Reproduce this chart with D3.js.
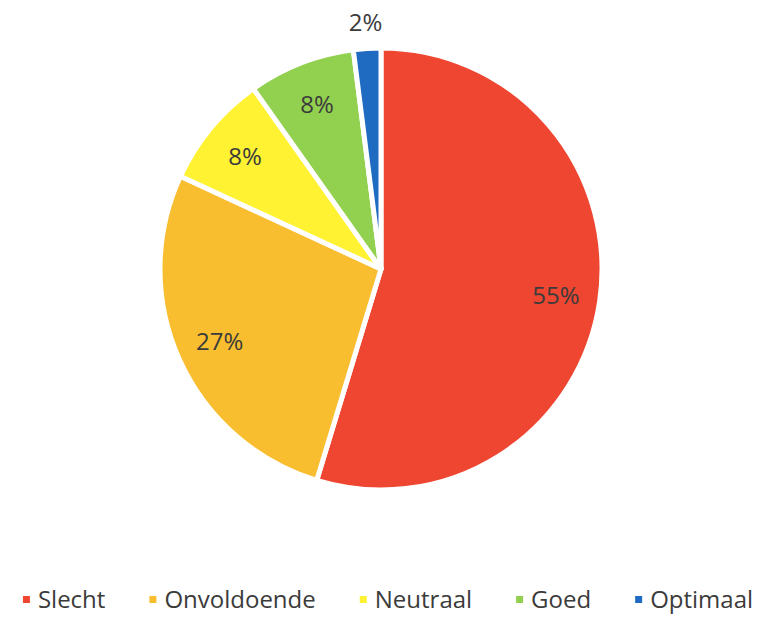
<!DOCTYPE html>
<html>
<head>
<meta charset="utf-8">
<script src="https://cdn.jsdelivr.net/npm/d3@7"></script>
<style>
  body { margin: 0; background: #fff; }
  text { font-family: "Open Sans", "Noto Sans", sans-serif; fill: #3b3b3b; }
</style>
</head>
<body>
<div id="chart"></div>
<script>
// data
const categories = ["Slecht", "Onvoldoende", "Neutraal", "Goed", "Optimaal"];
const values = [54.7, 27.2, 8.3, 7.8, 2.0];
const labels = ["55%", "27%", "8%", "8%", "2%"];
const colors = ["#EE4631", "#F9BE2F", "#FFF233", "#92D050", "#1F6BC1"];

const width = 759, height = 618;
const cx = 381, cy = 269, radius = 221;

const svg = d3.select("#chart").append("svg")
    .attr("width", width)
    .attr("height", height);

const pie = d3.pie().sort(null).value(d => d.value);
const arcs = pie(categories.map((c, i) => ({ name: c, value: values[i], label: labels[i] })));

const arc = d3.arc().innerRadius(0).outerRadius(radius);
const labelArc = d3.arc().innerRadius(radius * 0.8).outerRadius(radius * 0.8);
const outerLabelArc = d3.arc().innerRadius(radius * 1.12).outerRadius(radius * 1.12);

const color = d3.scaleOrdinal().domain(categories).range(colors);

const g = svg.append("g").attr("transform", `translate(${cx},${cy})`);

g.selectAll("path")
    .data(arcs)
    .join("path")
    .attr("d", arc)
    .attr("fill", d => color(d.data.name))
    .attr("stroke", "#fff")
    .attr("stroke-width", 5)
    .attr("stroke-linejoin", "round");

// small slice gets its label outside the pie
g.selectAll("text.lbl")
    .data(arcs)
    .join("text")
    .attr("class", "lbl")
    .attr("transform", d => {
        const p = d.data.value < 5 ? outerLabelArc.centroid(d) : labelArc.centroid(d);
        return `translate(${p[0]},${p[1]})`;
    })
    .attr("text-anchor", "middle")
    .attr("dy", "0.36em")
    .style("font-size", "24px")
    .text(d => d.data.label);

// legend, laid out from measured text widths and centred
const legend = svg.append("g");
const items = legend.selectAll("g")
    .data(categories)
    .join("g");

items.append("rect")
    .attr("width", 7)
    .attr("height", 7)
    .attr("y", -12)
    .attr("fill", d => color(d));

items.append("text")
    .attr("x", 15)
    .style("font-size", "24px")
    .text(d => d);

let x = 0;
items.each(function () {
    const w = d3.select(this).select("text").node().getComputedTextLength();
    d3.select(this).attr("transform", `translate(${x},0)`);
    x += 15 + w + 44;
});
const total = x - 44;
legend.attr("transform", `translate(${388 - total / 2},608)`);
</script>
</body>
</html>
